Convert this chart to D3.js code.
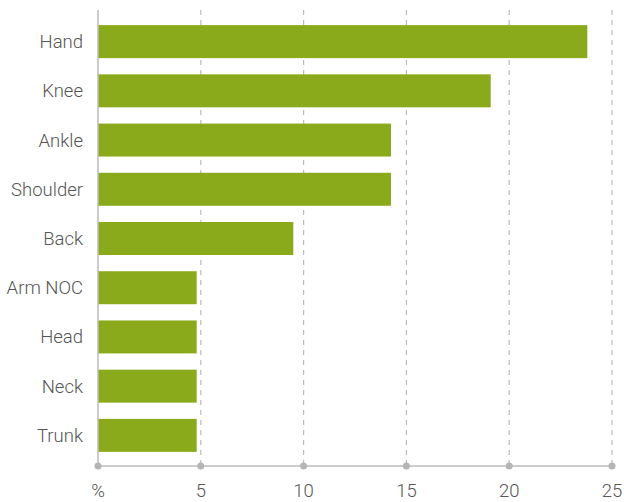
<!DOCTYPE html>
<html><head><meta charset="utf-8">
<script src="https://cdn.jsdelivr.net/npm/d3@7"></script>
<style>body{margin:0;background:#fff}text{font-family:Roboto,sans-serif;font-weight:300}</style>
</head><body><svg id="c" width="624" height="502"></svg>
<script>
const categories = ["Hand","Knee","Ankle","Shoulder","Back","Arm NOC","Head","Neck","Trunk"];
const values = [23.8,19.1,14.25,14.25,9.5,4.8,4.8,4.8,4.8];
const tickValues = [0,5,10,15,20,25];
const tickLabels = ["%","5","10","15","20","25"];

(function(){
const svg = d3.select("#c");
const x = d3.scaleLinear().domain([0,25]).range([98,612]);
const y = d3.scaleBand().domain(categories).range([17,460]).paddingInner(0.33).paddingOuter(0.165);
const topY = 10, axisY = 466;
const grid = "#bbbbbb";

svg.append("g").selectAll("line").data(tickValues.slice(1)).join("line")
  .attr("x1",d=>x(d)).attr("x2",d=>x(d)).attr("y1",topY).attr("y2",axisY)
  .attr("stroke",grid).attr("stroke-width",1.2).attr("stroke-dasharray","5,5");

svg.append("g").selectAll("rect").data(categories).join("rect")
  .attr("x",x(0)).attr("y",d=>y(d)).attr("height",y.bandwidth())
  .attr("width",(d,i)=>x(values[i])-x(0)).attr("fill","#8aaa1b");

svg.append("line").attr("x1",x(0)).attr("x2",x(0)).attr("y1",topY).attr("y2",axisY).attr("stroke",grid).attr("stroke-width",1.5);
svg.append("line").attr("x1",x(0)).attr("x2",x(25)).attr("y1",axisY).attr("y2",axisY).attr("stroke",grid).attr("stroke-width",1.5);
svg.append("g").selectAll("circle").data(tickValues).join("circle")
  .attr("cx",d=>x(d)).attr("cy",axisY).attr("r",3.5).attr("fill","#b5b5b5");

svg.append("g").selectAll("text").data(tickValues).join("text")
  .attr("x",d=>x(d)).attr("y",497).attr("text-anchor","middle")
  .attr("font-size",18.5).attr("fill","#555").text((d,i)=>tickLabels[i]);

svg.append("g").selectAll("text").data(categories).join("text")
  .attr("x",83).attr("y",d=>y(d)+y.bandwidth()/2).attr("dy","0.35em").attr("text-anchor","end")
  .attr("font-size",18.5).attr("fill","#555").text(d=>d);
})();
</script></body></html>
